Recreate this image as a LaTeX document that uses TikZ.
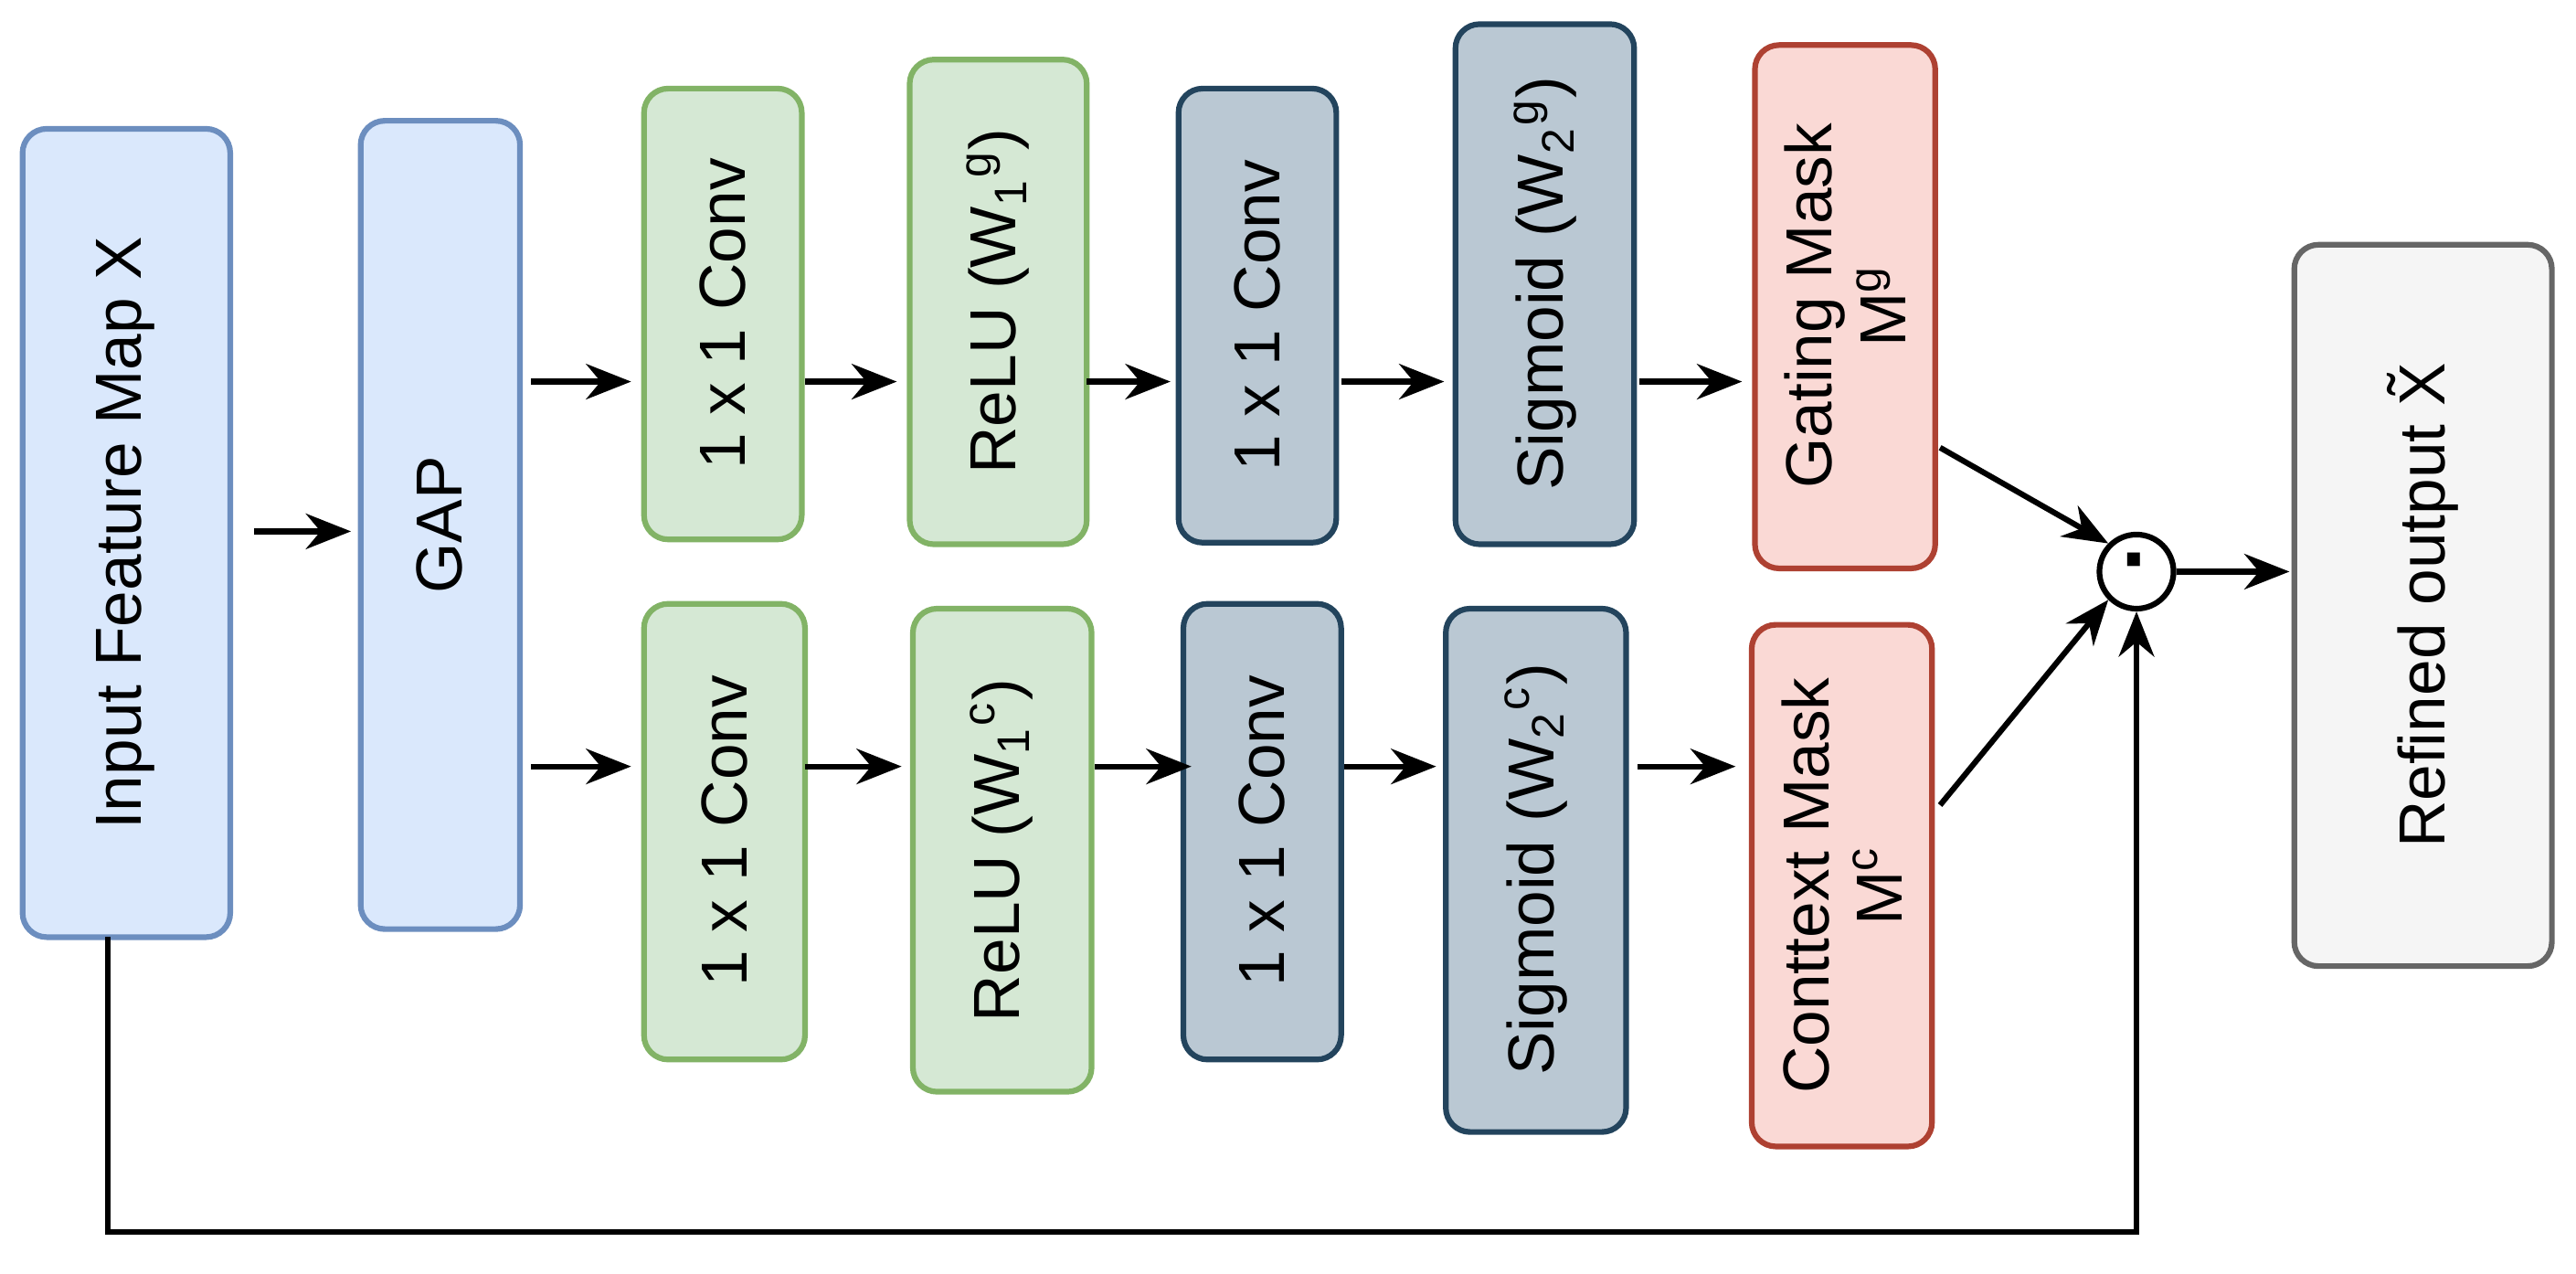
\documentclass[tikz,border=0pt]{standalone}
\usepackage{fontspec}
\setmainfont{Liberation Sans}
\usetikzlibrary{arrows.meta}
\definecolor{bF}{HTML}{DAE8FC}\definecolor{bD}{HTML}{6C8EBF}
\definecolor{gF}{HTML}{D5E8D4}\definecolor{gD}{HTML}{82B366}
\definecolor{sF}{HTML}{BAC8D3}\definecolor{sD}{HTML}{23445D}
\definecolor{rF}{HTML}{FAD9D5}\definecolor{rD}{HTML}{AE4132}
\definecolor{wF}{HTML}{F5F5F5}\definecolor{wD}{HTML}{666666}
\begin{document}
\begin{tikzpicture}[x=0.01cm,y=-0.01cm,
 box/.style={draw,line width=1pt,rounded corners=0.15cm,inner sep=0pt},
 blue/.style={box,fill=bF,draw=bD},green/.style={box,fill=gF,draw=gD},
 slate/.style={box,fill=sF,draw=sD},red/.style={box,fill=rF,draw=rD},
 grey/.style={box,fill=wF,draw=wD},
 lbl/.style={rotate=90,font=\fontsize{11.5}{13}\selectfont,align=center},
 arr/.style={-{Stealth[length=0.28cm,width=0.22cm]},line width=1pt}]
\useasboundingbox (0,0) rectangle (1600,791);
\draw[blue] (14,80) rectangle (143,582); \node[lbl] (in) at (78,331) {Input Feature Map X};
\draw[blue] (224,75) rectangle (323,577); \node[lbl] (gap) at (273,326) {GAP};
\draw[green] (400,55) rectangle (498,335); \node[lbl] (c1) at (449,195) {1 x 1 Conv};
\draw[green] (565,37) rectangle (675,338); \node[lbl] (r1) at (620,187) {ReLU (W\textsubscript{1}\textsuperscript{g})};
\draw[slate] (732,55) rectangle (830,337); \node[lbl] (d1) at (781,196) {1 x 1 Conv};
\draw[slate] (904,15) rectangle (1015,338); \node[lbl] (s1) at (960,176) {Sigmoid (W\textsubscript{2}\textsuperscript{g})};
\draw[red] (1090,28) rectangle (1202,353); \node[lbl] (m1) at (1146,190) {Gating Mask\\M\textsuperscript{g}};
\draw[green] (400,375) rectangle (500,658); \node[lbl] (c2) at (450,516) {1 x 1 Conv};
\draw[green] (567,378) rectangle (678,678); \node[lbl] (r2) at (622,528) {ReLU (W\textsubscript{1}\textsuperscript{c})};
\draw[slate] (735,375) rectangle (833,658); \node[lbl] (d2) at (784,516) {1 x 1 Conv};
\draw[slate] (898,378) rectangle (1010,703); \node[lbl] (s2) at (954,540) {Sigmoid (W\textsubscript{2}\textsuperscript{c})};
\draw[red] (1088,388) rectangle (1200,712); \node[lbl] (m2) at (1144,550) {Conttext Mask\\M\textsuperscript{c}};
\draw[grey] (1425,152) rectangle (1585,600); \node[lbl] (out) at (1505,376) {Refined output X̃};
\node[draw,circle,line width=1pt,minimum size=0.46cm,inner sep=0pt,font=\fontsize{16}{16}\selectfont\bfseries] (dot) at (1327,355) {·};
\coordinate (a0) at (158,330); \coordinate (a1) at (218,330);
\draw[arr] (a0) -- (a1);
\foreach \a/\b in {330/392,500/557,675/727,833/897,1018/1082}{\draw[arr] (\a,237) -- (\b,237);}
\foreach \a/\b in {330/392,500/560,680/740,835/892,1017/1078}{\draw[arr] (\a,476) -- (\b,476);}
\draw[arr] (1205,278) -- (dot.north west);
\draw[arr] (1205,500) -- (dot.south west);
\draw[arr] (dot.east) -- (1422,355);
\draw[arr] (67,582) -- (67,765) -- (1327,765) -- (dot.south);
\end{tikzpicture}
\end{document}
